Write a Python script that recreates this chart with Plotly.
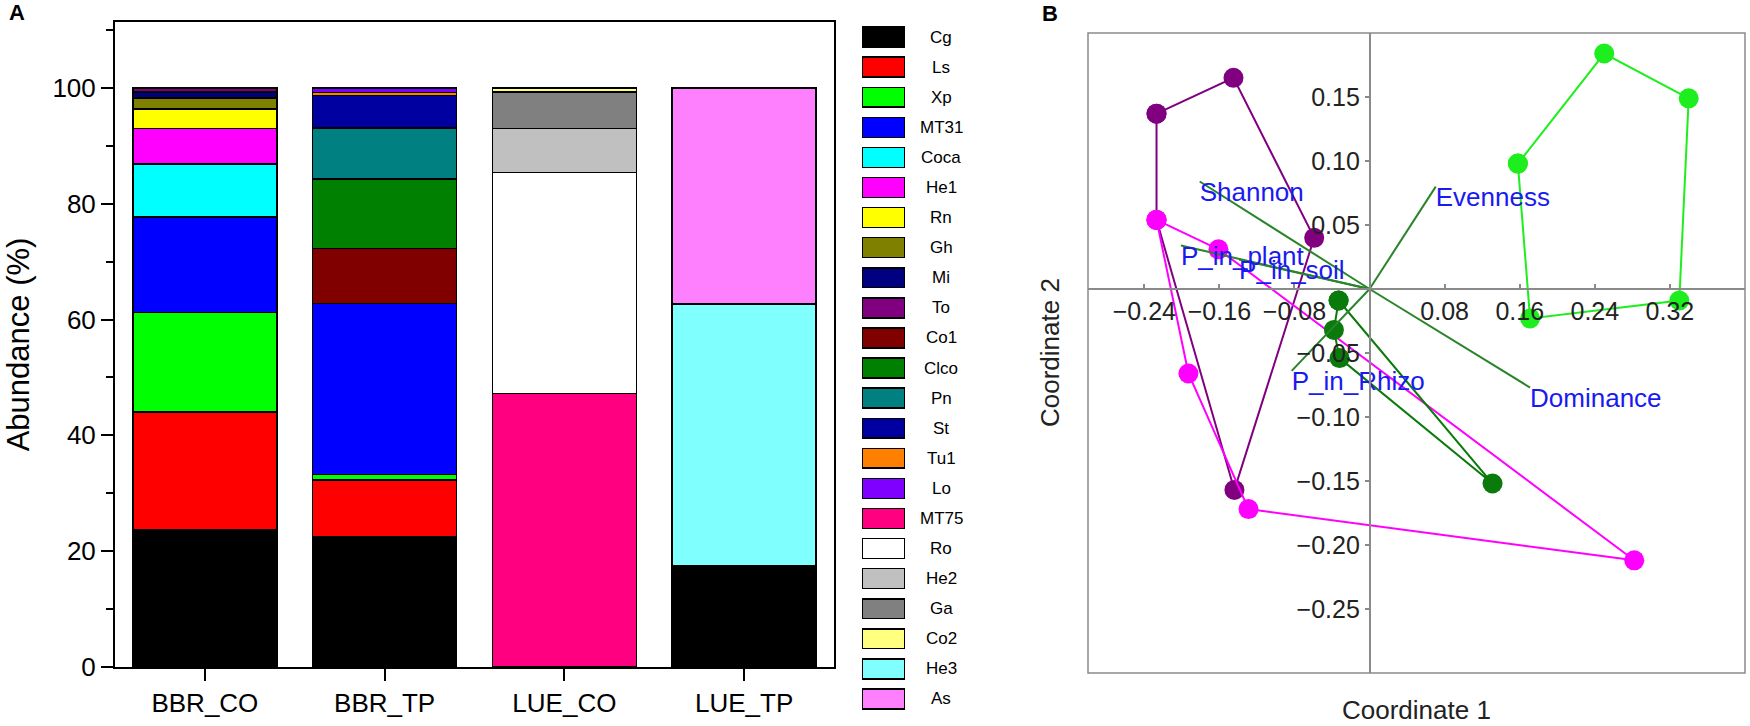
import plotly.graph_objects as go

W, H = 1750, 726
FIG_H = 742             # the photographed page area is 742px tall, shown at 726

# ---- panel A data: relative abundance (%) per sample, one entry per species
samples = ['BBR_CO', 'BBR_TP', 'LUE_CO', 'LUE_TP']
species = ['Cg', 'Ls', 'Xp', 'MT31', 'Coca', 'He1', 'Rn', 'Gh', 'Mi', 'To',
           'Co1', 'Clco', 'Pn', 'St', 'Tu1', 'Lo', 'MT75', 'Ro', 'He2', 'Ga',
           'Co2', 'He3', 'As']
bbr_co = [23.7, 20.3, 17.2, 16.5, 9.2, 6.1, 3.4, 1.9, 1.05, 0.65,
          0, 0, 0, 0, 0, 0, 0, 0, 0, 0, 0, 0, 0]
bbr_tp = [22.4, 9.9, 0.9, 29.6, 0, 0, 0, 0, 0, 0,
          9.5, 12.0, 8.8, 5.6, 0.5, 0.8, 0, 0, 0, 0, 0, 0, 0]
lue_co = [0, 0, 0, 0, 0, 0, 0, 0, 0, 0,
          0, 0, 0, 0, 0, 0, 47.2, 38.2, 7.6, 6.3, 0.7, 0, 0]
lue_tp = [17.5, 0, 0, 0, 0, 0, 0, 0, 0, 0,
          0, 0, 0, 0, 0, 0, 0, 0, 0, 0, 0, 45.2, 37.3]
colors = ['#000000', '#FF0000', '#00FF00', '#0000FF', '#00FFFF', '#FF00FF',
          '#FFFF00', '#808000', '#000080', '#800080', '#800000', '#008000',
          '#008080', '#0000A0', '#FF8000', '#8000FF', '#FF0080', '#FFFFFF',
          '#C0C0C0', '#808080', '#FFFF80', '#80FFFF', '#FF80FF']

# ---- panel B data: PCoA groups (hull order) and biplot vectors
purple_x = [-0.227, -0.145, -0.059, -0.144, -0.227]
purple_y = [0.137, 0.165, 0.040, -0.157, 0.054]
magenta_x = [-0.227, -0.161, 0.282, -0.129, -0.193]
magenta_y = [0.054, 0.031, -0.212, -0.172, -0.066]
dkgreen_x = [-0.033, 0.131, -0.032, -0.038]
dkgreen_y = [-0.009, -0.152, -0.054, -0.032]
ltgreen_x = [0.158, 0.250, 0.340, 0.330, 0.171]
ltgreen_y = [0.098, 0.184, 0.149, -0.009, -0.023]

vec_names = ['Shannon', 'Evenness', 'P_in_plant', 'P_in_soil', 'P_in_Rhizo', 'Dominance']
vec_x = [-0.181, 0.0705, -0.201, -0.139, -0.083, 0.171]
vec_y = [0.084, 0.080, 0.034, 0.023, -0.064, -0.077]

x_ticks_b = [-0.24, -0.16, -0.08, 0.08, 0.16, 0.24, 0.32]
y_ticks_b = [0.15, 0.10, 0.05, -0.05, -0.10, -0.15, -0.20, -0.25]


# reference pixel -> paper fraction
def px(x):
    return x / W


def py(y):
    return 1 - y / H


fig = go.Figure()

# stacked bars
per_sample = [bbr_co, bbr_tp, lue_co, lue_tp]
for i, name in enumerate(species):
    vals = [s[i] if s[i] else None for s in per_sample]
    fig.add_trace(go.Bar(
        x=samples, y=vals, name=name,
        marker=dict(color=colors[i], line=dict(color='black', width=1.5)),
        xaxis='x', yaxis='y', showlegend=False
    ))

# legend column drawn as a bar chart of unit boxes
fig.add_trace(go.Bar(
    x=[1] * len(species), y=species, orientation='h', width=0.66,
    marker=dict(color=colors, line=dict(color='black', width=1.5)),
    xaxis='x3', yaxis='y3', showlegend=False, hoverinfo='skip'
))

# PCoA hulls
groups = [
    (purple_x, purple_y, '#800080'),
    (magenta_x, magenta_y, '#FF00FF'),
    (dkgreen_x, dkgreen_y, '#0A7A0A'),
    (ltgreen_x, ltgreen_y, '#1EEE1E'),
]
for gx, gy, c in groups:
    fig.add_trace(go.Scatter(
        x=gx + gx[:1], y=gy + gy[:1], mode='lines+markers',
        line=dict(color=c, width=2),
        marker=dict(color=c, size=20),
        xaxis='x2', yaxis='y2', showlegend=False
    ))

# biplot vectors
vx, vy = [], []
for a, b in zip(vec_x, vec_y):
    vx += [0, a, None]
    vy += [0, b, None]
fig.add_trace(go.Scatter(
    x=vx, y=vy, mode='lines', line=dict(color='#2A842A', width=2),
    xaxis='x2', yaxis='y2', showlegend=False
))
fig.add_trace(go.Scatter(
    x=vec_x, y=vec_y, mode='text', text=vec_names,
    textposition='bottom right',
    textfont=dict(color='#1A1AF0', size=26, family='Liberation Sans, Arial'),
    xaxis='x2', yaxis='y2', showlegend=False
))

# panel B geometry
xb_dom = [px(1088), px(1745)]
yb_dom = [py(672), py(33)]
xb_rng = [-0.30, 0.40]
yb_rng = [-0.30, 0.20]
x_zero = xb_dom[0] + (0 - xb_rng[0]) / (xb_rng[1] - xb_rng[0]) * (xb_dom[1] - xb_dom[0])
y_zero = yb_dom[0] + (0 - yb_rng[0]) / (yb_rng[1] - yb_rng[0]) * (yb_dom[1] - yb_dom[0])

narrow = 'Liberation Sans Narrow, Arial Narrow, Liberation Sans, Arial'
sans = 'Liberation Sans, Arial'

annotations = [
    dict(text='<b>A</b>', x=px(17), y=py(12), xref='paper', yref='paper',
         xanchor='center', yanchor='middle', showarrow=False,
         font=dict(size=22, family=sans, color='black')),
    dict(text='<b>B</b>', x=px(1050), y=py(13), xref='paper', yref='paper',
         xanchor='center', yanchor='middle', showarrow=False,
         font=dict(size=22, family=sans, color='black')),
    dict(text='Coordinate 1', x=0.5, y=py(709), xref='x2 domain', yref='paper',
         xanchor='center', yanchor='middle', showarrow=False,
         font=dict(size=26, family=sans, color='#222')),
    dict(text='Coordinate 2', x=px(1050), y=0.5, xref='paper', yref='y2 domain',
         xanchor='center', yanchor='middle', textangle=-90, showarrow=False,
         font=dict(size=26, family=sans, color='#222')),
]
for name in species:
    annotations.append(dict(
        text=name, x=px(941), y=name, xref='paper', yref='y3',
        xanchor='center', yanchor='middle', showarrow=False,
        font=dict(size=17, family=sans, color='black')
    ))

fig.update_layout(
    width=W, height=FIG_H,
    margin=dict(l=0, r=0, t=0, b=0),
    plot_bgcolor='white',
    paper_bgcolor='white',
    barmode='stack',
    bargap=0.2,
    xaxis=dict(
        domain=[px(115), px(834)], range=[-0.5, 3.5], anchor='y',
        showline=True, linecolor='black', linewidth=2, mirror=True,
        ticks='outside', ticklen=12, tickwidth=2, tickcolor='black',
        tickfont=dict(size=26, family=narrow, color='black'),
        showgrid=False, zeroline=False
    ),
    yaxis=dict(
        domain=[py(666), py(22)], range=[0, 111.4], anchor='x',
        showline=True, linecolor='black', linewidth=2, mirror=True,
        ticks='outside', ticklen=12, tickwidth=2, tickcolor='black', dtick=20,
        minor=dict(dtick=10, ticks='outside', ticklen=7, tickwidth=2, tickcolor='black'),
        tickfont=dict(size=26, family=narrow, color='black'),
        title=dict(text='Abundance (%)', font=dict(size=31, family=sans, color='black'),
                   standoff=14),
        showgrid=False, zeroline=False
    ),
    xaxis3=dict(domain=[px(862), px(905)], range=[0, 1], anchor='y3', visible=False),
    yaxis3=dict(domain=[py(713), py(22)], range=[22.5, -0.5], anchor='x3', visible=False,
                type='category'),
    xaxis2=dict(
        domain=xb_dom, range=xb_rng, anchor='free', position=y_zero,
        showline=True, linecolor='#8a8a8a', linewidth=1.5,
        ticks='inside', ticklen=4, tickcolor='#8a8a8a', tickwidth=1.5,
        tickvals=x_ticks_b, tickformat='.2f',
        tickfont=dict(size=25, family=sans, color='#222'),
        showgrid=False, zeroline=False
    ),
    yaxis2=dict(
        domain=yb_dom, range=yb_rng, anchor='free', position=x_zero,
        showline=True, linecolor='#8a8a8a', linewidth=1.5,
        ticks='outside', ticklen=4, tickcolor='#8a8a8a', tickwidth=1.5,
        tickvals=y_ticks_b, tickformat='.2f',
        tickfont=dict(size=25, family=sans, color='#222'),
        showgrid=False, zeroline=False
    ),
    shapes=[dict(type='rect', xref='x2 domain', yref='y2 domain',
                 x0=0, x1=1, y0=0, y1=1, line=dict(color='#8a8a8a', width=1.5))],
    annotations=annotations
)

# no page margin and no scrollbars, so the figure sits at the window's corner
page_fix = ("document.documentElement.style.overflow = 'hidden';"
            "document.body.style.margin = '0';"
            "document.body.style.overflow = 'hidden';")
fig.write_html("out.html", config={'displayModeBar': False}, post_script=page_fix)
